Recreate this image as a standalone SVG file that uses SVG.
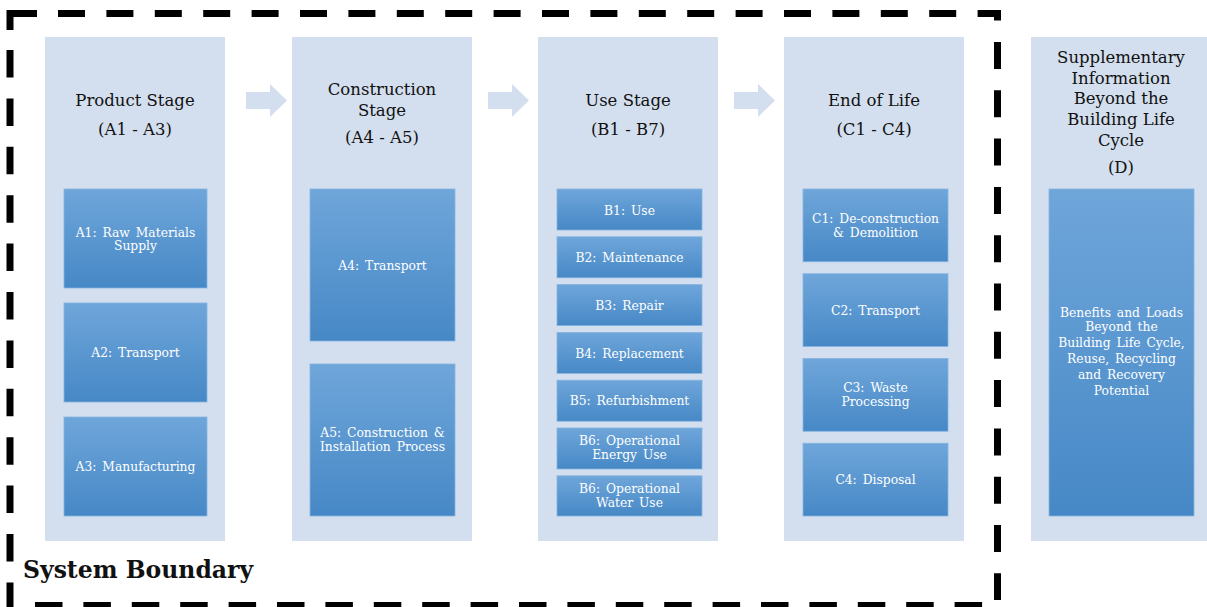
<svg xmlns="http://www.w3.org/2000/svg" width="1207" height="607" viewBox="0 0 1207 607">
<defs>
<linearGradient id="g" x1="0" y1="0" x2="0" y2="1">
<stop offset="0" stop-color="#6FA6DA"/>
<stop offset="1" stop-color="#4688C6"/>
</linearGradient>
<style>
.panel{fill:#D3DFEE}
.box{fill:url(#g);stroke:#86B4E0;stroke-width:0.8}
.title{font-family:"DejaVu Serif","Liberation Serif",serif;font-size:16.5px;fill:#111;text-anchor:middle}
.lbl{font-family:"DejaVu Serif","Liberation Serif",serif;font-size:12.3px;fill:#fff;text-anchor:middle;word-spacing:2px}
.arrow{fill:#D3DFEE}
.bnd{fill:none;stroke:#000;stroke-width:7}
</style>
</defs>
<rect width="1207" height="607" fill="#fff"/>

<g id="boundary">
<path class="bnd" d="M10,30 V13.5 H37"/>
<line class="bnd" x1="10" y1="50" x2="10" y2="607" stroke-dasharray="27.5 20.9"/>
<path class="bnd" d="M58,13.5 H997.5 V21" stroke-dasharray="27 21.4"/>
<line class="bnd" x1="997.5" y1="42" x2="997.5" y2="600" stroke-dasharray="27 21.3"/>
<line class="bnd" x1="35" y1="605.5" x2="983" y2="605.5" stroke-dasharray="27.5 20.9"/>
<text x="23" y="578" font-family="DejaVu Serif,Liberation Serif,serif" font-weight="bold" font-size="23.5px" fill="#111">System Boundary</text>
</g>

<g id="connectors">
<path class="arrow" d="M246,92 H270 V84 L287,100.5 L270,117 V109 H246 Z"/>
<path class="arrow" d="M488,92 H512 V84 L529,100.5 L512,117 V109 H488 Z"/>
<path class="arrow" d="M734,92 H758 V84 L775,100.5 L758,117 V109 H734 Z"/>
</g>

<g id="product-stage">
<rect class="panel" x="45" y="37" width="180" height="504"/>
<text class="title" x="135" y="106">Product Stage</text>
<text class="title" x="135" y="135">(A1 - A3)</text>
<rect class="box" x="64" y="189" width="143" height="99"/>
<text class="lbl" x="135.5" y="237">A1: Raw Materials</text>
<text class="lbl" x="135.5" y="250">Supply</text>
<rect class="box" x="64" y="303" width="143" height="99"/>
<text class="lbl" x="135.5" y="357">A2: Transport</text>
<rect class="box" x="64" y="417" width="143" height="99"/>
<text class="lbl" x="135.5" y="471">A3: Manufacturing</text>
</g>

<g id="construction-stage">
<rect class="panel" x="292" y="37" width="180" height="504"/>
<text class="title" x="382" y="95">Construction</text>
<text class="title" x="382" y="116">Stage</text>
<text class="title" x="382" y="143">(A4 - A5)</text>
<rect class="box" x="310" y="189" width="145" height="152"/>
<text class="lbl" x="382.5" y="270">A4: Transport</text>
<rect class="box" x="310" y="364" width="145" height="152"/>
<text class="lbl" x="382.5" y="437">A5: Construction &amp;</text>
<text class="lbl" x="382.5" y="451">Installation  Process</text>
</g>

<g id="use-stage">
<rect class="panel" x="538" y="37" width="180" height="504"/>
<text class="title" x="628" y="106">Use Stage</text>
<text class="title" x="628" y="135">(B1 - B7)</text>
<rect class="box" x="557" y="189" width="145" height="41"/>
<text class="lbl" x="629.5" y="215">B1: Use</text>
<rect class="box" x="557" y="236.8" width="145" height="41"/>
<text class="lbl" x="629.5" y="262">B2: Maintenance</text>
<rect class="box" x="557" y="284.6" width="145" height="41"/>
<text class="lbl" x="629.5" y="310">B3: Repair</text>
<rect class="box" x="557" y="332.4" width="145" height="41"/>
<text class="lbl" x="629.5" y="357.5">B4: Replacement</text>
<rect class="box" x="557" y="380.2" width="145" height="41"/>
<text class="lbl" x="629.5" y="405">B5: Refurbishment</text>
<rect class="box" x="557" y="428" width="145" height="41"/>
<text class="lbl" x="629.5" y="445">B6: Operational</text>
<text class="lbl" x="629.5" y="459">Energy Use</text>
<rect class="box" x="557" y="475.8" width="145" height="40.2"/>
<text class="lbl" x="629.5" y="493">B6: Operational</text>
<text class="lbl" x="629.5" y="507">Water Use</text>
</g>

<g id="end-of-life">
<rect class="panel" x="784" y="37" width="180" height="504"/>
<text class="title" x="874" y="106">End of Life</text>
<text class="title" x="874" y="135">(C1 - C4)</text>
<rect class="box" x="803" y="189" width="145" height="72.75"/>
<text class="lbl" x="875.5" y="223">C1: De-construction</text>
<text class="lbl" x="875.5" y="237">&amp; Demolition</text>
<rect class="box" x="803" y="273.75" width="145" height="72.75"/>
<text class="lbl" x="875.5" y="315">C2: Transport</text>
<rect class="box" x="803" y="358.5" width="145" height="72.75"/>
<text class="lbl" x="875.5" y="392">C3: Waste</text>
<text class="lbl" x="875.5" y="406">Processing</text>
<rect class="box" x="803" y="443.25" width="145" height="72.75"/>
<text class="lbl" x="875.5" y="484">C4: Disposal</text>
</g>

<g id="supplementary">
<rect class="panel" x="1031" y="37" width="180" height="504"/>
<text class="title" x="1121" y="63">Supplementary</text>
<text class="title" x="1121" y="84">Information</text>
<text class="title" x="1121" y="104">Beyond the</text>
<text class="title" x="1121" y="125">Building Life</text>
<text class="title" x="1121" y="146">Cycle</text>
<text class="title" x="1121" y="173">(D)</text>
<rect class="box" x="1049" y="189" width="145" height="327"/>
<text class="lbl" x="1121.5" y="317">Benefits and Loads</text>
<text class="lbl" x="1121.5" y="331">Beyond the</text>
<text class="lbl" x="1121.5" y="347">Building Life Cycle,</text>
<text class="lbl" x="1121.5" y="363">Reuse, Recycling</text>
<text class="lbl" x="1121.5" y="379">and Recovery</text>
<text class="lbl" x="1121.5" y="395">Potential</text>
</g>
</svg>
